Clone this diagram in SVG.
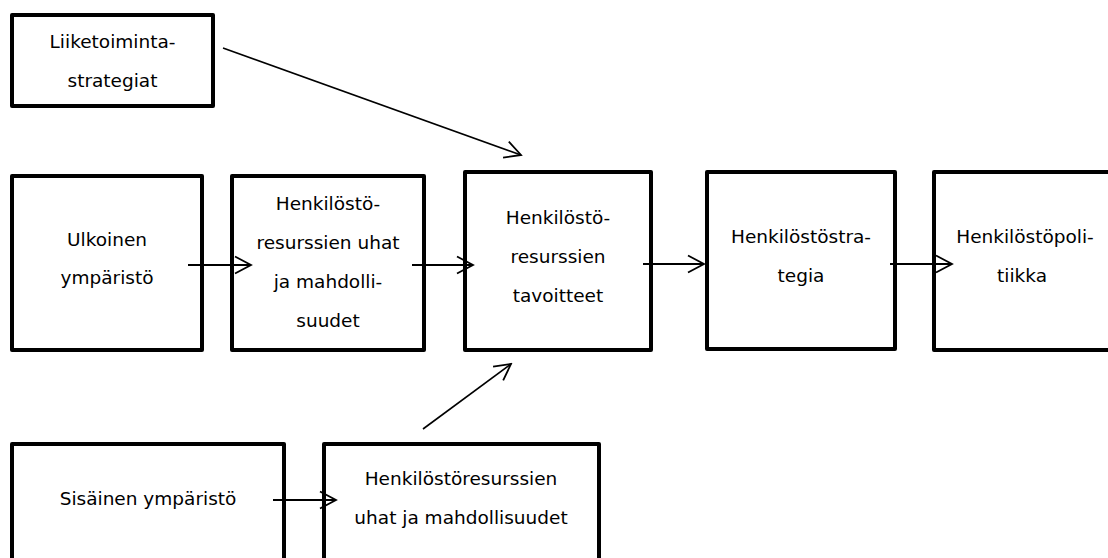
<svg xmlns="http://www.w3.org/2000/svg" width="1108" height="558" viewBox="0 0 1108 558">
<style>
.box{fill:#fff;stroke:#000;stroke-width:4;stroke-linejoin:round}
.t{font-family:"DejaVu Sans","Verdana",sans-serif;font-size:18.5px;fill:#000;text-anchor:middle}
.c{stroke:#000;stroke-width:2;fill:none}
.d{stroke:#000;stroke-width:1.6;fill:none}
</style>
<defs>
<marker id="ah" markerUnits="userSpaceOnUse" viewBox="-17 -10 19 20" refX="0" refY="0" markerWidth="19" markerHeight="20" orient="auto">
<path d="M-16,-8.5 L0,0 L-16,8.5" fill="none" stroke="#000" stroke-width="1.8"/>
</marker>
</defs>
<rect width="1108" height="558" fill="#fff"/>
<g id="n-liiketoiminta">
<rect class="box" x="12" y="15" width="201" height="91"/>
<text class="t" x="112.5" y="48">Liiketoiminta-</text>
<text class="t" x="112.5" y="87">strategiat</text>
</g>
<g id="n-ulkoinen">
<rect class="box" x="12" y="176" width="190" height="174"/>
<text class="t" x="107" y="246">Ulkoinen</text>
<text class="t" x="107" y="284">ympäristö</text>
</g>
<g id="n-uhat1">
<rect class="box" x="232" y="176" width="192" height="174"/>
<text class="t" x="328" y="210">Henkilöstö-</text>
<text class="t" x="328" y="249">resurssien uhat</text>
<text class="t" x="328" y="288">ja mahdolli-</text>
<text class="t" x="328" y="327">suudet</text>
</g>
<g id="n-tavoitteet">
<rect class="box" x="465" y="172" width="186" height="178"/>
<text class="t" x="558" y="224">Henkilöstö-</text>
<text class="t" x="558" y="263">resurssien</text>
<text class="t" x="558" y="302">tavoitteet</text>
</g>
<g id="n-strategia">
<rect class="box" x="707" y="172" width="188" height="177"/>
<text class="t" x="801" y="243">Henkilöstöstra-</text>
<text class="t" x="801" y="282">tegia</text>
</g>
<g id="n-politiikka">
<rect class="box" x="934" y="172" width="185" height="178"/>
<text class="t" x="1025" y="243">Henkilöstöpoli-</text>
<text class="t" x="1022" y="282">tiikka</text>
</g>
<g id="n-sisainen">
<rect class="box" x="12" y="444" width="272" height="130"/>
<text class="t" x="148" y="505">Sisäinen ympäristö</text>
</g>
<g id="n-uhat2">
<rect class="box" x="324" y="444" width="275" height="130"/>
<text class="t" x="461" y="485">Henkilöstöresurssien</text>
<text class="t" x="461" y="524">uhat ja mahdollisuudet</text>
</g>
<g id="connectors">
<line class="d" x1="223" y1="48" x2="521" y2="155" marker-end="url(#ah)"/>
<line class="d" x1="423" y1="429" x2="511" y2="364" marker-end="url(#ah)"/>
<line class="c" x1="188" y1="265" x2="251" y2="265" marker-end="url(#ah)"/>
<line class="c" x1="412" y1="265" x2="473" y2="265" marker-end="url(#ah)"/>
<line class="c" x1="643" y1="264" x2="704" y2="264" marker-end="url(#ah)"/>
<line class="c" x1="890" y1="264" x2="952" y2="264" marker-end="url(#ah)"/>
<line class="c" x1="273" y1="500" x2="336" y2="500" marker-end="url(#ah)"/>
</g>
</svg>
